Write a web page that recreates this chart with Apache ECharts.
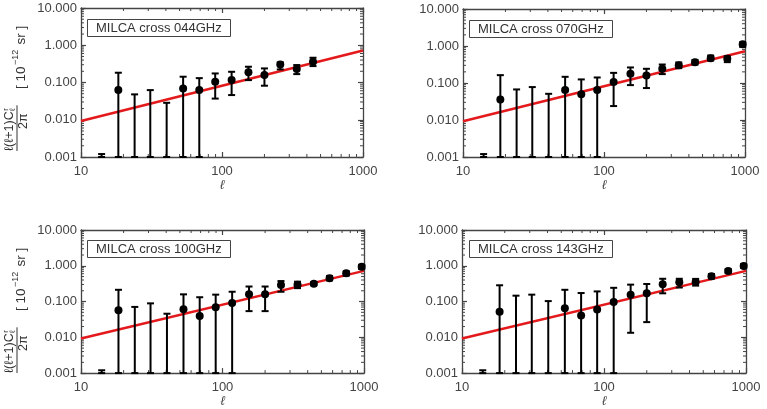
<!DOCTYPE html>
<html><head><meta charset="utf-8">
<script src="https://cdn.jsdelivr.net/npm/echarts@6/dist/echarts.min.js"></script>
<style>html,body{margin:0;padding:0;background:#fff}#c{width:767px;height:409px}</style>
</head><body><div id="c"></div>
<script>
// multipole bin centres
const ell = [14, 18.4, 24, 31, 40.5, 53, 69, 89.5, 117, 154, 200, 259, 339, 442, 571, 749, 963];
const panelNames = ['MILCA cross 044GHz', 'MILCA cross 070GHz', 'MILCA cross 100GHz', 'MILCA cross 143GHz'];
// values (null = no point drawn), lower and upper error bar ends, in 1e-12 sr
const val044 = [null, 0.0625, null, null, null, 0.069, 0.0625, 0.105, 0.116, 0.187, 0.158, 0.306, 0.229, 0.36];
const lo044  = [1e-4, 1e-4, 1e-4, 1e-4, 1e-4, 1e-4, 1e-4, 0.037, 0.046, 0.116, 0.082, 0.224, 0.168, 0.276];
const hi044  = [0.0012, 0.183, 0.048, 0.0625, 0.0285, 0.143, 0.131, 0.175, 0.194, 0.265, 0.239, 0.347, 0.294, 0.462];
const val070 = [null, 0.036, null, null, null, 0.0645, 0.050, 0.0645, 0.106, 0.177, 0.160, 0.242, 0.303, 0.366, 0.469, 0.450, 1.12];
const lo070  = [1e-4, 1e-4, 1e-4, 1e-4, 1e-4, 1e-4, 1e-4, 1e-4, 0.0238, 0.0877, 0.073, 0.174, 0.252, 0.316, 0.407, 0.366, 0.95];
const hi070  = [0.0012, 0.163, 0.067, 0.0776, 0.051, 0.147, 0.125, 0.141, 0.188, 0.263, 0.242, 0.316, 0.359, 0.42, 0.553, 0.53, 1.26];
const val100 = [null, 0.0574, null, null, null, 0.061, 0.0397, 0.069, 0.0912, 0.16, 0.16, 0.291, 0.297, 0.316, 0.451, 0.617, 0.933];
const lo100  = [1e-4, 1e-4, 1e-4, 1e-4, 1e-4, 1e-4, 1e-4, 1e-4, 1e-4, 0.054, 0.054, 0.188, 0.237, 0.285, 0.39, 0.532, 0.81];
const hi100  = [0.0012, 0.213, 0.0708, 0.089, 0.0457, 0.159, 0.132, 0.156, 0.188, 0.263, 0.263, 0.374, 0.359, 0.352, 0.52, 0.70, 1.06];
const val143 = [null, 0.0519, null, null, null, 0.065, 0.041, 0.060, 0.097, 0.156, 0.17, 0.303, 0.344, 0.352, 0.512, 0.713, 0.99];
const lo143  = [1e-4, 1e-4, 1e-4, 1e-4, 1e-4, 1e-4, 1e-4, 1e-4, 1e-4, 0.0134, 0.0266, 0.17, 0.247, 0.279, 0.44, 0.63, 0.877];
const hi143  = [0.0012, 0.285, 0.146, 0.156, 0.103, 0.213, 0.173, 0.192, 0.242, 0.297, 0.31, 0.433, 0.433, 0.43, 0.59, 0.81, 1.12];
// power-law model (red line)
const fitEll = [10, 1000];
const fitVal = [0.0093, 0.72];
// axis ranges and tick labels
const xRange = [10, 1000];
const yRange = [0.001, 10];
const xMinorTicks = [20, 30, 40, 50, 60, 70, 80, 90, 200, 300, 400, 500, 600, 700, 800, 900];
const yMinorTicks = [0.002, 0.003, 0.004, 0.005, 0.006, 0.007, 0.008, 0.009,
  0.02, 0.03, 0.04, 0.05, 0.06, 0.07, 0.08, 0.09,
  0.2, 0.3, 0.4, 0.5, 0.6, 0.7, 0.8, 0.9,
  2, 3, 4, 5, 6, 7, 8, 9];

const panels = [
  {val: val044, lo: lo044, hi: hi044},
  {val: val070, lo: lo070, hi: hi070},
  {val: val100, lo: lo100, hi: hi100},
  {val: val143, lo: lo143, hi: hi143}
];

const FONT = '"Liberation Sans", Arial, Helvetica, sans-serif';
const AX = '#444';
const TXT = '#444';

const grids = [
  {left: 81, top: 8, width: 282, height: 149},
  {left: 463, top: 9, width: 282, height: 148},
  {left: 81, top: 230, width: 283, height: 148},
  {left: 462, top: 230, width: 284, height: 148}
];
const boxes = [
  {left: 87, top: 19}, {left: 469, top: 20}, {left: 87, top: 240}, {left: 469, top: 240}
];

function errRender(params, api) {
  const cs = params.coordSys;
  const top = cs.y, bot = cs.y + cs.height;
  const xv = api.value(0);
  const x = api.coord([xv, 1])[0];
  const cl = y => Math.max(top, Math.min(bot, y));
  const yl = cl(api.coord([xv, api.value(1)])[1]);
  const yh = cl(api.coord([xv, api.value(2)])[1]);
  const v = api.value(3);
  const st = {stroke: '#000', lineWidth: 2};
  const cw = 3.5;
  const ch = [
    {type: 'line', shape: {x1: x, y1: yl, x2: x, y2: yh}, style: st},
    {type: 'line', shape: {x1: x - cw, y1: yh, x2: x + cw, y2: yh}, style: st},
    {type: 'line', shape: {x1: x - cw, y1: yl, x2: x + cw, y2: yl}, style: st}
  ];
  if (isFinite(v) && v > 0) {
    const y = api.coord([xv, v])[1];
    ch.push({type: 'circle', shape: {cx: x, cy: y, r: 4}, style: {fill: '#000'}});
  }
  return {type: 'group', children: ch};
}
function xMinorRender(params, api) {
  const cs = params.coordSys;
  const x = api.coord([api.value(0), 1])[0];
  const st = {stroke: AX, lineWidth: 1};
  return {type: 'group', children: [
    {type: 'line', shape: {x1: x, y1: cs.y + cs.height, x2: x, y2: cs.y + cs.height - 3}, style: st},
    {type: 'line', shape: {x1: x, y1: cs.y, x2: x, y2: cs.y + 3}, style: st}
  ]};
}
function yMinorRender(params, api) {
  const cs = params.coordSys;
  const y = api.coord([100, api.value(1)])[1];
  const st = {stroke: AX, lineWidth: 1};
  return {type: 'group', children: [
    {type: 'line', shape: {x1: cs.x, y1: y, x2: cs.x + 3, y2: y}, style: st},
    {type: 'line', shape: {x1: cs.x + cs.width, y1: y, x2: cs.x + cs.width - 3, y2: y}, style: st}
  ]};
}

const xAxes = [], yAxes = [], series = [], titles = [];
const axLine = {show: true, lineStyle: {color: AX, width: 1.3}};
const axTick = {show: true, inside: true, length: 5, lineStyle: {color: AX, width: 1.2}};
grids.forEach((g, k) => {
  xAxes.push({type: 'log', logBase: 10, gridIndex: k, min: xRange[0], max: xRange[1], position: 'bottom',
    axisLine: axLine, axisTick: axTick, splitLine: {show: false},
    axisLabel: {color: TXT, fontSize: 13, fontFamily: FONT, margin: 8, formatter: v => String(Math.round(v))},
    name: 'ℓ', nameLocation: 'middle', nameGap: 21,
    nameTextStyle: {color: TXT, fontSize: 13, fontStyle: 'italic', fontFamily: FONT}});
  xAxes.push({type: 'log', logBase: 10, gridIndex: k, min: xRange[0], max: xRange[1], position: 'top',
    axisLine: axLine, axisTick: axTick, splitLine: {show: false}, axisLabel: {show: false}});
  yAxes.push({type: 'log', logBase: 10, gridIndex: k, min: yRange[0], max: yRange[1], position: 'left',
    axisLine: axLine, axisTick: axTick, splitLine: {show: false},
    axisLabel: {color: TXT, fontSize: 13, fontFamily: FONT, margin: 4, formatter: v => v.toFixed(3)}});
  yAxes.push({type: 'log', logBase: 10, gridIndex: k, min: yRange[0], max: yRange[1], position: 'right',
    axisLine: axLine, axisTick: axTick, splitLine: {show: false}, axisLabel: {show: false}});

  const p = panels[k];
  series.push({type: 'line', xAxisIndex: 2 * k, yAxisIndex: 2 * k, symbol: 'none', z: 3,
    data: fitEll.map((e, i) => [e, fitVal[i]]),
    lineStyle: {color: '#e3191c', width: 2.5}, silent: true});
  series.push({type: 'custom', xAxisIndex: 2 * k, yAxisIndex: 2 * k, z: 4, silent: true,
    renderItem: errRender, encode: {x: 0, y: 2},
    data: p.hi.map((h, i) => [ell[i], p.lo[i], h, p.val[i] == null ? NaN : p.val[i]])});
  series.push({type: 'custom', xAxisIndex: 2 * k, yAxisIndex: 2 * k, z: 2, silent: true,
    renderItem: xMinorRender, encode: {x: 0, y: 1}, data: xMinorTicks.map(v => [v, 1])});
  series.push({type: 'custom', xAxisIndex: 2 * k, yAxisIndex: 2 * k, z: 2, silent: true,
    renderItem: yMinorRender, encode: {x: 0, y: 1}, data: yMinorTicks.map(v => [100, v])});

  titles.push({text: panelNames[k], left: boxes[k].left, top: boxes[k].top,
    padding: [1, 9], borderWidth: 1, borderColor: AX,
    textStyle: {color: '#333', fontSize: 13, fontWeight: 'normal', fontFamily: FONT, lineHeight: 16}});
});

// y-axis title: fraction + unit, rotated
const mctx = document.createElement('canvas').getContext('2d');
function tw(txt, size) { mctx.font = size + 'px ' + FONT; return mctx.measureText(txt).width; }
const graphics = [];
[0, 222].forEach(dy => {
  const numA = 'ℓ(ℓ+1)C';
  const wA = tw(numA, 12.5);
  const ch = [];
  const ts = (text, x, y, size, align) => ({type: 'text', x: x, y: y,
    style: {text: text, fontSize: size, fontFamily: FONT, fill: '#333', align: align || 'left', verticalAlign: 'middle'}});
  ch.push(ts(numA, 0, -7, 12.5));
  ch.push(ts('ℓ', wA + 0.5, -4, 8));
  ch.push(ts('r', wA + 0.5, -11, 8));
  const wNum = wA + 6;
  ch.push({type: 'line', shape: {x1: 0, y1: 0, x2: wNum, y2: 0}, style: {stroke: '#333', lineWidth: 1}});
  ch.push(ts('2π', wNum / 2 + 7, 7, 12.5, 'center'));
  // unit
  let ux = 62;
  const u1 = '[ 10', u2 = '−12', u3 = ' sr ]';
  ch.push(ts(u1, ux, 4, 13.5)); ux += tw(u1, 13.5) + 1.5;
  ch.push(ts(u2, ux, -1, 9)); ux += tw(u2, 9) + 1.5;
  ch.push(ts(u3, ux, 4, 13.5));
  graphics.push({type: 'group', x: 17, y: 151 + dy, rotation: Math.PI / 2, children: ch, silent: true});
});

const chart = echarts.init(document.getElementById('c'), null, {renderer: 'canvas'});
chart.setOption({
  animation: false,
  backgroundColor: '#fff',
  title: titles,
  grid: grids,
  xAxis: xAxes,
  yAxis: yAxes,
  series: series,
  graphic: graphics
});
</script>
</body></html>
